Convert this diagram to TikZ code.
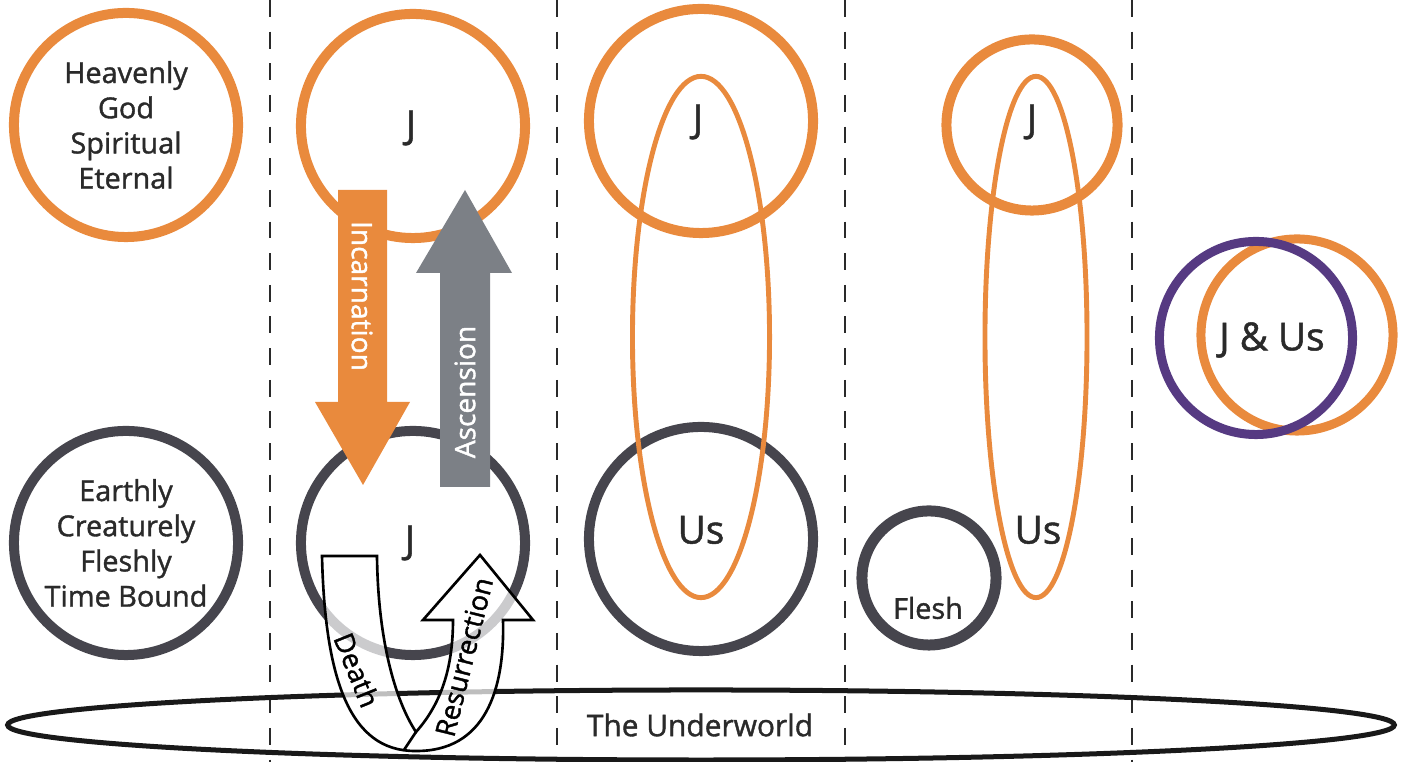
\documentclass[tikz,border=0pt]{standalone}
\usepackage{fontspec}
\setmainfont{Open Sans}[FakeBold=1.3]
\usetikzlibrary{shapes.geometric}

\definecolor{jorange}{HTML}{E98A3D}
\definecolor{earthgray}{HTML}{46454D}
\definecolor{ascgray}{HTML}{7C8086}
\definecolor{jpurple}{HTML}{563A82}
\definecolor{txt}{HTML}{2A2A2A}

\tikzset{
  ring/.style={circle, draw, line width=0.1cm, inner sep=0pt, minimum size=2.24cm, align=center, text=txt},
  heavenring/.style={ring, draw=jorange},
  earthring/.style={ring, draw=earthgray},
  smalltxt/.style={font=\fontsize{8.2}{10}\selectfont, text=txt, align=center},
  bigtxt/.style={font=\fontsize{11}{13}\selectfont, text=txt},
  divider/.style={dash pattern=on 4.8pt off 4.2pt, line width=0.75pt, draw=txt},
  hoop/.style={ellipse, draw=jorange, line width=1.4pt, inner sep=0pt, minimum width=1.37cm, minimum height=5.21cm},
  bandtxt/.style={font=\fontsize{7.8}{9}\selectfont, text=black},
  arrowtxt/.style={font=\fontsize{8}{9}\selectfont, text=white}
}

\begin{document}
\begin{tikzpicture}[x=0.01cm, y=-0.01cm]
  \useasboundingbox (0,0) rectangle (1408,762);

  % Dividers
  \foreach \x in {270,557,845,1132}
  {\draw[divider] (\x,0) -- (\x,762);}

  % 1st column
  \node[heavenring, smalltxt] (heaven) at (126,125) {Heavenly\\God\\Spiritual\\Eternal};
  \node[earthring, smalltxt] (earth) at (126,543) {Earthly\\Creaturely\\Fleshly\\Time Bound};

  % 2nd column
  \node[heavenring] (jup) at (413,126) {};
  \node[earthring] (jdown) at (413,543) {};
  \node[bigtxt] (jtxt1) at (411,128) {J};
  \node[bigtxt] (jtxt2) at (410,543) {J};

  % Underworld
  \draw[draw=black!90, line width=0.05cm] (701,725) ellipse [x radius=6.93cm, y radius=0.35cm];
  \node[smalltxt, font=\fontsize{8.5}{10}\selectfont] (under) at (700,725) {The Underworld};

  % Death and Resurrection
  \draw[fill=white, fill opacity=0.72, line width=0.75pt, line join=miter]
    (322,556) .. controls (325,680) and (350,751) .. (415,751)
    .. controls (485,752) and (505,690) .. (503,620)
    -- (533,620) -- (480,555) -- (423,620) -- (453,620)
    .. controls (453,670) and (440,705) .. (416,732)
    .. controls (395,700) and (378,640) .. (377,556) -- cycle;
  \draw[line width=0.75pt] (416,732) -- (404,750);
  \node[bandtxt, rotate=-68] (death) at (357,670) {Death};
  \node[bandtxt, rotate=76] (resur) at (464,657) {Resurrection};

  % Incarnation and Ascension
  \fill[jorange] (338,190) -- (387,190) -- (387,402) -- (410,402) -- (363,485) -- (315,402) -- (338,402) -- cycle;
  \node[arrowtxt, rotate=-90] (incarn) at (362,296) {Incarnation};
  \fill[ascgray] (440,487) -- (490,487) -- (490,273) -- (512,273) -- (465,190) -- (416,273) -- (440,273) -- cycle;
  \node[arrowtxt, rotate=90] (ascen) at (465,392) {Ascension};

  % 3rd column
  \node[heavenring] (jtop3) at (701,121) {};
  \node[earthring] (us3) at (701,539) {};
  \node[hoop] (hoop3) at (701,337) {};
  \node[bigtxt] (j3) at (698,122) {J};
  \node[bigtxt] (ustxt3) at (701,530) {Us};

  % 4th column
  \node[heavenring, minimum size=1.71cm] (jtop4) at (1032,125) {};
  \node[earthring, minimum size=1.34cm, line width=0.11cm] (flesh) at (929,578) {};
  \node[hoop, minimum width=1.02cm] (hoop4) at (1036,337) {};
  \node[bigtxt] (j4) at (1032,122) {J};
  \node[bigtxt] (ustxt4) at (1038,530) {Us};
  \node[smalltxt] (fleshtxt) at (928,608) {Flesh};

  % 5th column
  \node[ring, draw=jorange, minimum size=1.92cm, line width=0.09cm] (jring) at (1297,335) {};
  \node[ring, draw=jpurple, minimum size=1.93cm, line width=0.09cm] (usring) at (1256,338) {};
  \node[font=\fontsize{11}{13}\selectfont, text=txt] (jus) at (1272,340) {J \& Us};
\end{tikzpicture}
\end{document}
